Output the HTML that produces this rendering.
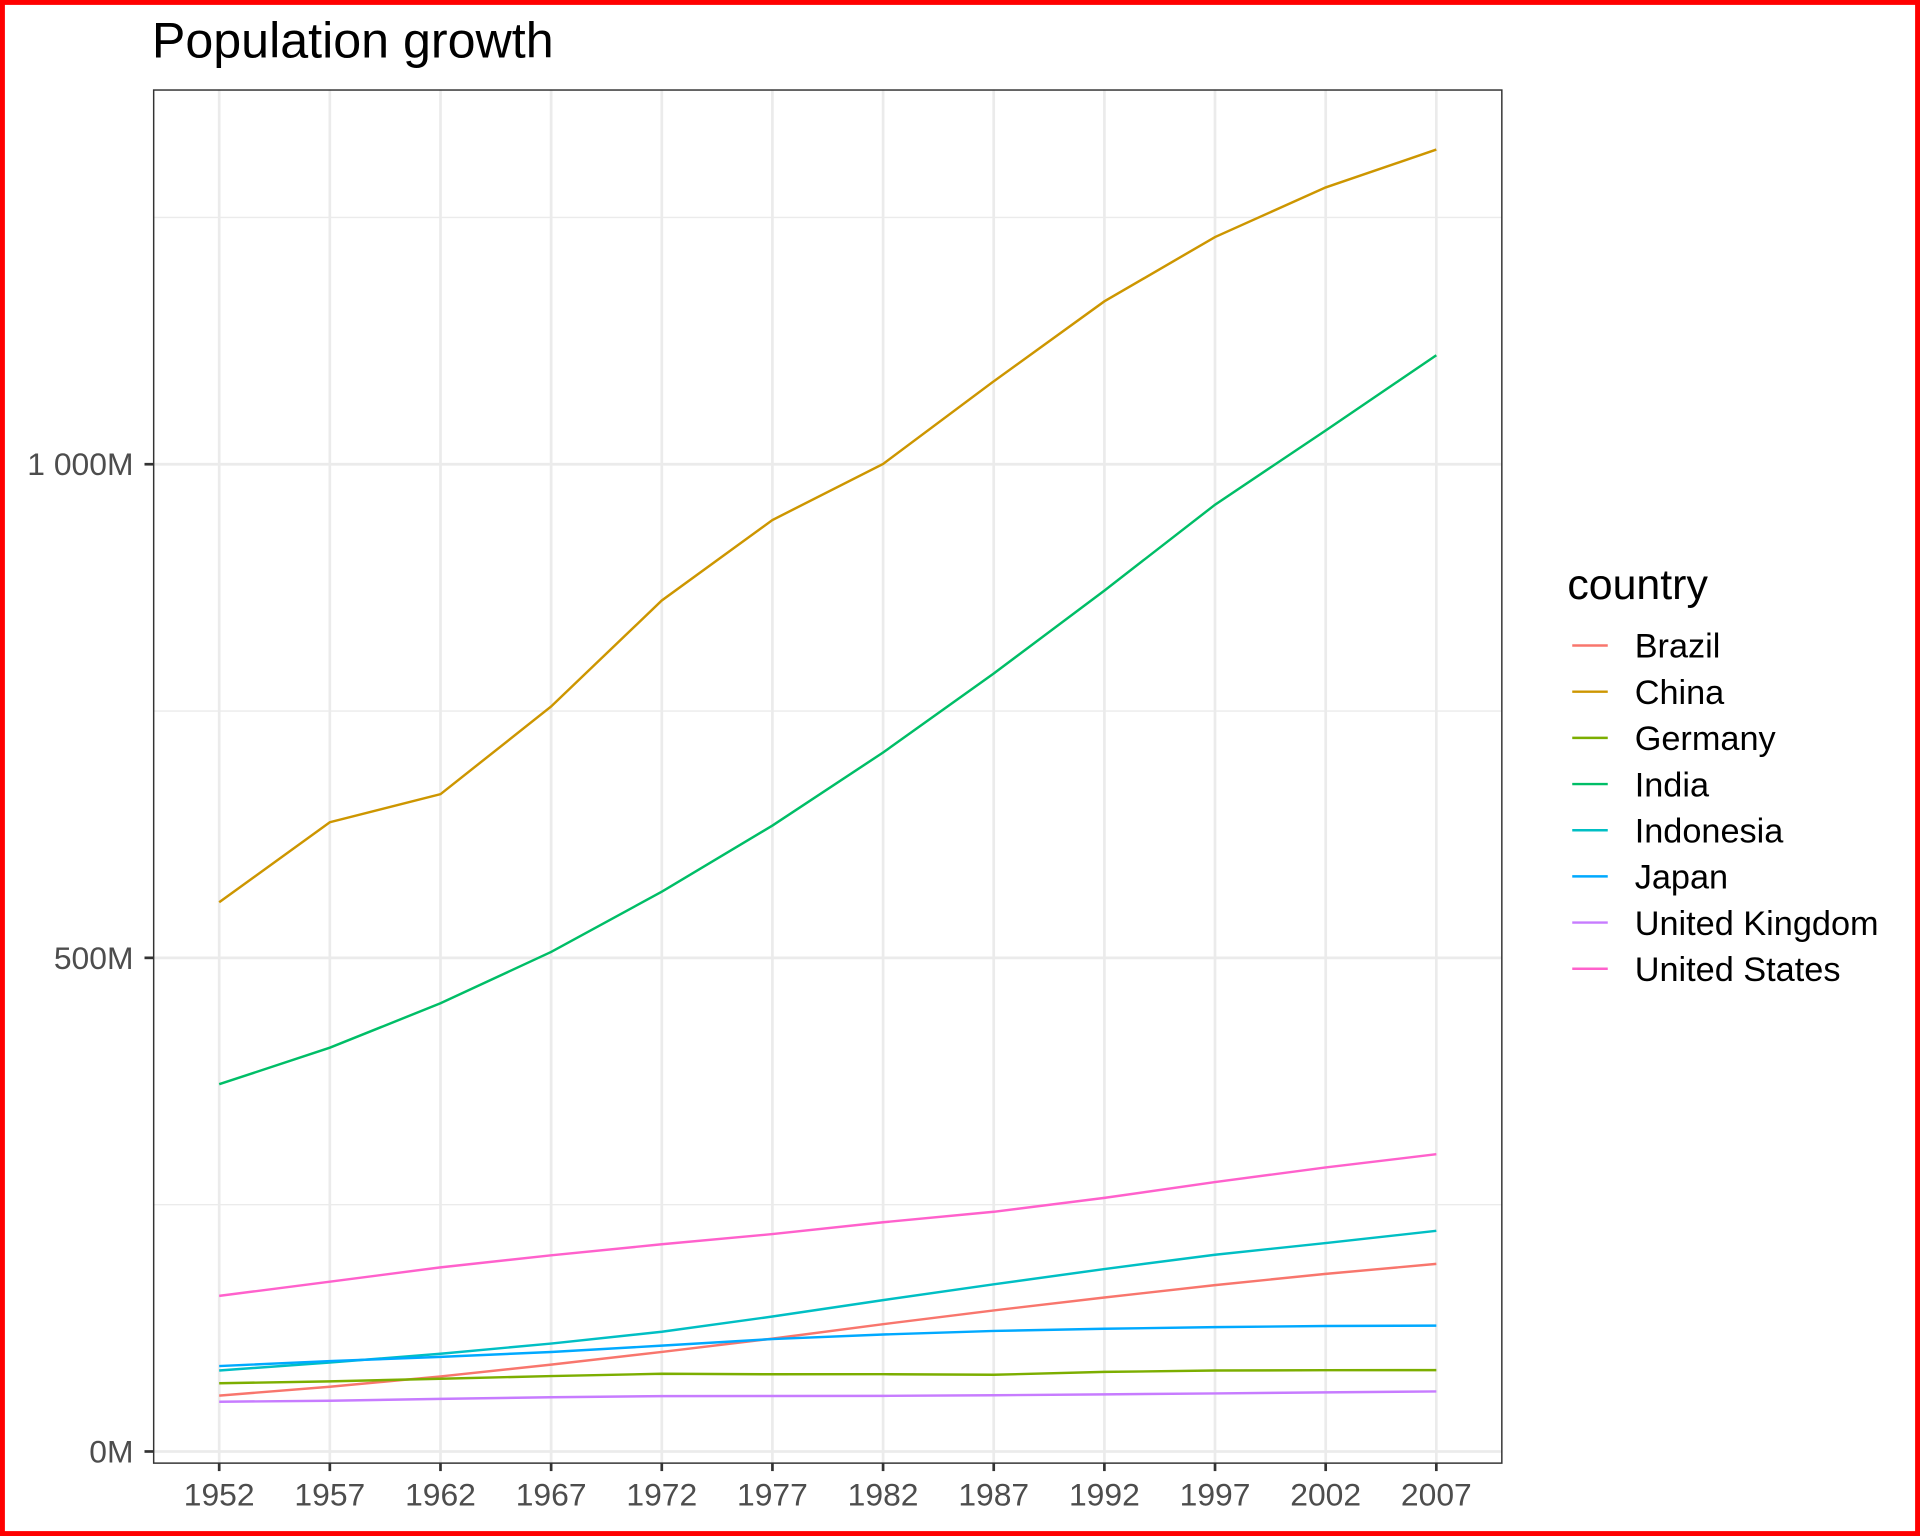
<!DOCTYPE html>
<html><head><meta charset="utf-8"><style>
html,body{margin:0;padding:0;background:#fff;}
svg{display:block;font-family:"Liberation Sans",sans-serif;}
</style></head><body>
<svg id="chart" width="1920" height="1536" viewBox="0 0 1568 1254" preserveAspectRatio="none" xmlns="http://www.w3.org/2000/svg">
<rect x="2" y="2" width="1564" height="1250" fill="#fff" stroke="#ff0000" stroke-width="4"/>
<text x="124" y="47" font-size="41" fill="#000">Population growth</text>
<g id="grid"></g>
<g id="lines"></g>
<rect x="125.5" y="73.5" width="1101" height="1121" fill="none" stroke="#333" stroke-width="1.2"/>
<g id="axes"></g>
<g id="legend"></g>
</svg>
<script>
const years = [1952,1957,1962,1967,1972,1977,1982,1987,1992,1997,2002,2007];
const countries = ["Brazil","China","Germany","India","Indonesia","Japan","United Kingdom","United States"];
const colors = ["#F8766D","#CD9600","#7CAE00","#00BE67","#00BFC4","#00A9FF","#C77CFF","#FF61CC"];
const brazil = [56.6,65.6,76.0,88.0,100.8,114.3,128.96,142.9,155.98,168.5,179.9,190.0];
const china = [556.3,637.4,665.8,754.6,862.0,943.5,1000.3,1084.0,1165.0,1230.1,1280.4,1318.7];
const germany = [69.1,71.0,73.7,76.4,78.7,78.2,78.3,77.7,80.6,82.0,82.35,82.4];
const india = [372.0,409.0,454.0,506.0,567.0,634.0,708.0,788.0,872.0,959.0,1034.2,1110.4];
const indonesia = [82.05,90.1,99.0,109.3,121.3,136.7,153.3,169.3,184.8,199.3,211.1,223.5];
const japan = [86.5,91.6,95.8,100.8,107.2,113.9,118.5,122.1,124.3,125.96,127.07,127.47];
const uk = [50.4,51.4,53.3,54.96,56.08,56.18,56.34,56.98,57.87,58.8,59.9,60.8];
const us = [157.6,171.98,186.5,198.7,209.9,220.2,232.2,242.8,256.9,272.9,287.7,301.1];
const series = [brazil,china,germany,india,indonesia,japan,uk,us];
const yTicks = [0,500,1000];
const yTickLabels = ["0M","500M","1 000M"];
const yMinor = [250,750,1250];

const NS="http://www.w3.org/2000/svg";
const X = y => 179 + (y-1952)*(1173-179)/55;
const Y = v => 1185 - v*403/500;
function mk(tag, attrs, parent){const e=document.createElementNS(NS,tag);for(const k in attrs)e.setAttribute(k,attrs[k]);parent.appendChild(e);return e;}
const grid=document.getElementById('grid'), lines=document.getElementById('lines'), axes=document.getElementById('axes'), legend=document.getElementById('legend');
yMinor.forEach(v=>{const l=mk('line',{x1:125,x2:1226,y1:Y(v),y2:Y(v),stroke:'#ebebeb','stroke-width':1.1},grid);

});
yTicks.forEach((v,i)=>{const l=mk('line',{x1:125,x2:1226,y1:Y(v),y2:Y(v),stroke:'#ebebeb','stroke-width':2.2},grid);


const t=mk('line',{x1:118,x2:125,y1:Y(v),y2:Y(v),stroke:'#333','stroke-width':2.2},axes);


const tx=mk('text',{x:109,y:Y(v)+9,'text-anchor':'end','font-size':26,fill:'#4d4d4d'},axes);tx.textContent=yTickLabels[i];

});
years.forEach(yr=>{const l=mk('line',{x1:X(yr),x2:X(yr),y1:73,y2:1194,stroke:'#ebebeb','stroke-width':2.2},grid);


const t=mk('line',{x1:X(yr),x2:X(yr),y1:1194,y2:1201,stroke:'#333','stroke-width':2.2},axes);


const tx=mk('text',{x:X(yr),y:1229,'text-anchor':'middle','font-size':26,fill:'#4d4d4d'},axes);tx.textContent=yr;

});
series.forEach((s,i)=>{const p=mk('polyline',{points:s.map((v,j)=>X(years[j])+','+Y(v)).join(' '),fill:'none',stroke:colors[i],'stroke-width':2},lines);

});
const lt=mk('text',{x:1280,y:489,'font-size':35,fill:'#000'},legend);lt.textContent='country';


countries.forEach((c,i)=>{const y=527+i*37.7;
const l=mk('line',{x1:1284,x2:1313,y1:y,y2:y,stroke:colors[i],'stroke-width':2},legend);


const t=mk('text',{x:1335,y:y+10,'font-size':28,fill:'#000'},legend);t.textContent=c;

});
</script>
</body></html>
